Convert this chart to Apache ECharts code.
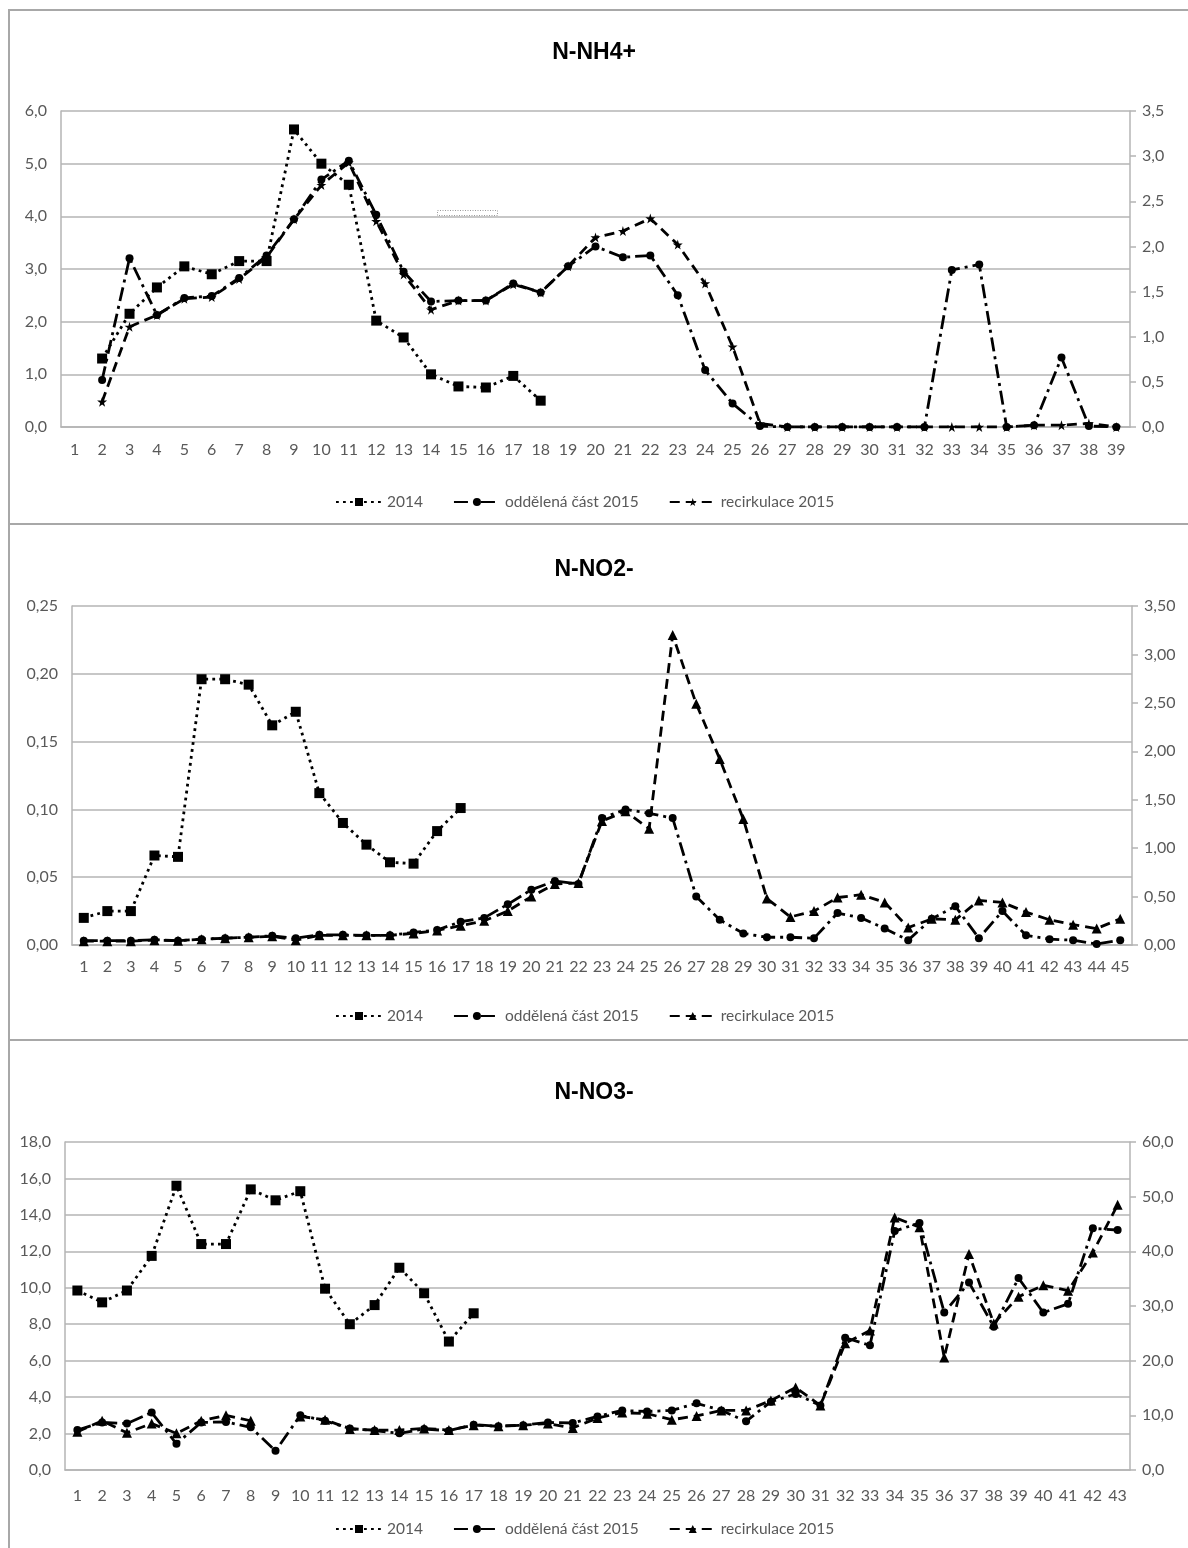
<!DOCTYPE html>
<html>
<head>
<meta charset="utf-8">
<script src="https://cdn.jsdelivr.net/npm/echarts@6/dist/echarts.min.js"></script>
<style>
  html, body { margin: 0; padding: 0; background: #fff; width: 1188px; height: 1548px; overflow: hidden; }
  .chart { position: absolute; left: 0; width: 1188px; }
  .frame { position: absolute; left: 8px; width: 1200px; border-left: 2px solid #a8a8a8; border-top: 2px solid #a8a8a8; pointer-events: none; }
</style>
</head>
<body>
<div class="frame" style="top:9px;height:1560px;"></div>
<div class="frame" style="top:523px;height:1040px;border-left:none;"></div>
<div class="frame" style="top:1039px;height:520px;border-left:none;"></div>
<div id="c1" class="chart" style="top:0;height:525px;"></div>
<div id="c2" class="chart" style="top:525px;height:515px;"></div>
<div id="c3" class="chart" style="top:1040px;height:508px;"></div>
<script>
// ---------------- DATA ----------------
const seriesNames = ['2014', 'oddělená část 2015', 'recirkulace 2015'];

// N-NH4+
const nh4Categories = ['1','2','3','4','5','6','7','8','9','10','11','12','13','14','15','16','17','18','19','20','21','22','23','24','25','26','27','28','29','30','31','32','33','34','35','36','37','38','39'];
const nh4_2014 = [null, 1.3, 2.15, 2.65, 3.05, 2.9, 3.15, 3.15, 5.65, 5.0, 4.6, 2.02, 1.7, 1.0, 0.77, 0.75, 0.97, 0.5];
const nh4_oddelena = [null, 0.52, 1.87, 1.24, 1.43, 1.45, 1.65, 1.9, 2.3, 2.74, 2.95, 2.35, 1.72, 1.39, 1.4, 1.4, 1.59, 1.49, 1.78, 2.0, 1.88, 1.9, 1.46, 0.63, 0.26, 0.01, 0, 0, 0, 0, 0, 0, 1.74, 1.8, 0, 0.02, 0.77, 0.01, 0];
const nh4_recirkulace = [null, 0.28, 1.11, 1.24, 1.42, 1.44, 1.64, 1.88, 2.3, 2.68, 2.93, 2.28, 1.69, 1.3, 1.4, 1.4, 1.58, 1.49, 1.78, 2.1, 2.17, 2.31, 2.02, 1.59, 0.89, 0.04, 0, 0, 0, 0, 0, 0, 0, 0, 0, 0.02, 0.02, 0.04, 0];

// N-NO2-
const no2Categories = ['1','2','3','4','5','6','7','8','9','10','11','12','13','14','15','16','17','18','19','20','21','22','23','24','25','26','27','28','29','30','31','32','33','34','35','36','37','38','39','40','41','42','43','44','45'];
const no2_2014 = [0.02, 0.025, 0.025, 0.066, 0.065, 0.196, 0.196, 0.192, 0.162, 0.172, 0.112, 0.09, 0.074, 0.061, 0.06, 0.084, 0.101];
const no2_oddelena = [0.045, 0.045, 0.045, 0.055, 0.045, 0.06, 0.07, 0.08, 0.095, 0.07, 0.105, 0.105, 0.1, 0.1, 0.13, 0.155, 0.24, 0.28, 0.42, 0.57, 0.66, 0.63, 1.31, 1.4, 1.36, 1.31, 0.5, 0.26, 0.12, 0.08, 0.08, 0.07, 0.33, 0.28, 0.17, 0.05, 0.27, 0.4, 0.07, 0.35, 0.1, 0.06, 0.05, 0.01, 0.05];
const no2_recirkulace = [0.04, 0.04, 0.04, 0.05, 0.045, 0.06, 0.07, 0.08, 0.09, 0.05, 0.1, 0.1, 0.1, 0.1, 0.12, 0.15, 0.2, 0.25, 0.35, 0.5, 0.63, 0.64, 1.28, 1.38, 1.2, 3.2, 2.49, 1.92, 1.3, 0.48, 0.29, 0.35, 0.49, 0.52, 0.44, 0.18, 0.27, 0.26, 0.46, 0.44, 0.34, 0.26, 0.21, 0.17, 0.27];

// N-NO3-
const no3Categories = ['1','2','3','4','5','6','7','8','9','10','11','12','13','14','15','16','17','18','19','20','21','22','23','24','25','26','27','28','29','30','31','32','33','34','35','36','37','38','39','40','41','42','43'];
const no3_2014 = [9.85, 9.2, 9.85, 11.75, 15.6, 12.4, 12.4, 15.4, 14.8, 15.3, 9.95, 8.0, 9.05, 11.1, 9.7, 7.05, 8.6];
const no3_oddelena = [7.3, 8.7, 8.5, 10.5, 4.8, 8.7, 8.8, 7.8, 3.5, 10.0, 9.0, 7.6, 7.2, 6.7, 7.5, 7.2, 8.3, 8.0, 8.2, 8.7, 8.6, 9.8, 10.9, 10.7, 10.9, 12.2, 10.9, 8.9, 12.5, 13.9, 11.8, 24.2, 22.8, 43.7, 45.2, 28.8, 34.3, 26.2, 35.1, 28.8, 30.4, 44.2, 43.9];
const no3_recirkulace = [7.0, 9.0, 6.8, 8.5, 6.7, 9.0, 10.0, 9.0, null, 9.8, 9.2, 7.5, 7.3, 7.3, 7.6, 7.3, 8.2, 8.0, 8.2, 8.5, 7.7, 9.5, 10.5, 10.3, 9.2, 9.9, 10.9, 10.9, 12.7, 15.1, 11.8, 23.2, 25.5, 46.2, 44.4, 20.6, 39.5, 26.8, 31.7, 33.8, 32.8, 39.8, 48.5];

const titles = ['N-NH4+', 'N-NO2-', 'N-NO3-'];

// ---------------- STYLE HELPERS ----------------
const LABEL_FONT = 'Lato, "Open Sans", sans-serif';
const GRAY = '#595959';
const AXIS_GRAY = '#b4b4b4';
const STAR = 'path://M50,0 L61,35 L98,35 L68,57 L79,91 L50,70 L21,91 L32,57 L2,35 L39,35 Z';

function fmt(dec) { return v => v.toFixed(dec).replace('.', ','); }

function makeOption(cfg) {
  const lineBase = { color: '#000', width: 2.8 };
  return {
    animation: false,
    backgroundColor: 'transparent',
    title: {
      text: cfg.title, left: 'center', top: cfg.titleTop,
      textStyle: { fontFamily: '"Liberation Sans Narrow", "Liberation Sans", Arial, sans-serif', fontWeight: 'bold', fontSize: 23, color: '#000' }
    },
    legend: {
      left: 330, top: cfg.legendTop, itemWidth: 46, itemHeight: 10, itemGap: 30,
      data: seriesNames,
      textStyle: { fontFamily: LABEL_FONT, fontSize: 15.5, color: GRAY }
    },
    grid: { left: cfg.grid[0], right: cfg.grid[1], top: cfg.grid[2], bottom: cfg.grid[3] },
    xAxis: {
      type: 'category', data: cfg.cats, boundaryGap: true,
      axisLine: { show: true, lineStyle: { color: AXIS_GRAY, width: 1.5 } },
      axisTick: { show: false },
      axisLabel: { interval: 0, margin: cfg.xMargin, color: GRAY, fontFamily: LABEL_FONT, fontSize: 16 }
    },
    yAxis: [
      {
        type: 'value', min: 0, max: cfg.left[0], interval: cfg.left[1],
        axisLine: { show: true, lineStyle: { color: AXIS_GRAY, width: 1.5 } },
        axisTick: { show: false },
        splitLine: { show: true, lineStyle: { color: AXIS_GRAY, width: 1.6 } },
        axisLabel: { margin: 14, color: GRAY, fontFamily: LABEL_FONT, fontSize: 16, formatter: fmt(cfg.left[2]) }
      },
      {
        type: 'value', min: 0, max: cfg.right[0], interval: cfg.right[1], position: 'right',
        axisLine: { show: true, lineStyle: { color: AXIS_GRAY, width: 1.5 } },
        axisTick: { show: true, inside: false, length: 6, lineStyle: { color: AXIS_GRAY, width: 1.5 } },
        splitLine: { show: false },
        axisLabel: { margin: 12, color: GRAY, fontFamily: LABEL_FONT, fontSize: 16, formatter: fmt(cfg.right[2]) }
      }
    ],
    graphic: cfg.graphic || [],
    series: [
      {
        name: seriesNames[0], type: 'line', yAxisIndex: 0, data: cfg.s1,
        symbol: 'rect', symbolSize: 10, showAllSymbol: true,
        itemStyle: { color: '#000' },
        lineStyle: Object.assign({}, lineBase, { type: [2.8, 4.2] })
      },
      {
        name: seriesNames[1], type: 'line', yAxisIndex: 1, data: cfg.s2,
        symbol: 'circle', symbolSize: 8, showAllSymbol: true,
        itemStyle: { color: '#000' },
        lineStyle: Object.assign({}, lineBase, { type: [14, 5, 3, 5] })
      },
      {
        name: seriesNames[2], type: 'line', yAxisIndex: 1, data: cfg.s3,
        symbol: cfg.s3Symbol, symbolSize: cfg.s3Size, showAllSymbol: true,
        itemStyle: { color: '#000' },
        lineStyle: Object.assign({}, lineBase, { type: [10, 6] })
      }
    ]
  };
}

const c1 = echarts.init(document.getElementById('c1'), null, { renderer: 'canvas' });
c1.setOption(makeOption({
  title: titles[0], titleTop: 36, legendTop: 489,
  grid: [61, 58, 111, 98], xMargin: 15,
  cats: nh4Categories, left: [6, 1, 1], right: [3.5, 0.5, 1],
  s1: nh4_2014, s2: nh4_oddelena, s3: nh4_recirkulace, s3Symbol: STAR, s3Size: 10,
  graphic: [{
    type: 'rect', left: 437, top: 210, z: 5,
    shape: { width: 60, height: 5 },
    style: { fill: '#fff', stroke: '#9a9a9a', lineWidth: 1, lineDash: [1, 1.5] }
  }]
}));

const c2 = echarts.init(document.getElementById('c2'), null, { renderer: 'canvas' });
c2.setOption(makeOption({
  title: titles[1], titleTop: 28, legendTop: 478,
  grid: [72, 56, 81, 95], xMargin: 14,
  cats: no2Categories, left: [0.25, 0.05, 2], right: [3.5, 0.5, 2],
  s1: no2_2014, s2: no2_oddelena, s3: no2_recirkulace, s3Symbol: 'triangle', s3Size: 10
}));

const c3 = echarts.init(document.getElementById('c3'), null, { renderer: 'canvas' });
c3.setOption(makeOption({
  title: titles[2], titleTop: 36, legendTop: 476,
  grid: [65, 58, 102, 78], xMargin: 18,
  cats: no3Categories, left: [18, 2, 1], right: [60, 10, 1],
  s1: no3_2014, s2: no3_oddelena, s3: no3_recirkulace, s3Symbol: 'triangle', s3Size: 10
}));
</script>
</body>
</html>
